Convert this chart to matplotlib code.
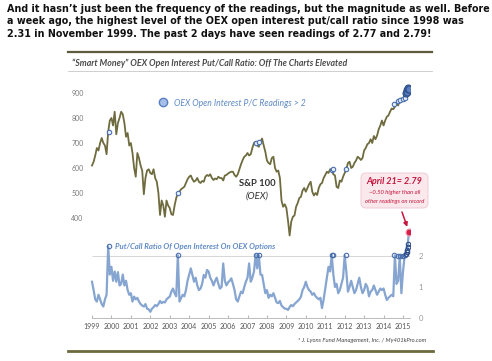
import numpy as np
import matplotlib.pyplot as plt
from matplotlib.lines import Line2D
from matplotlib.patches import FancyBboxPatch

# --- data ---
start_year = 1999
# S&P 100 (OEX), monthly, Jan 1999 .. Apr 2015
oex = [610, 625, 650, 680, 670, 700, 720, 700, 690, 655, 745, 790,
       800, 770, 825, 735, 780, 800, 825, 815, 780, 725, 740, 690,
       700, 660, 600, 565, 660, 640, 610, 590, 495, 560, 590, 595,
       580, 575, 595, 560, 545, 500, 412, 470, 450, 405, 470, 450,
       440, 415, 412, 450, 480, 500, 505, 515, 520, 525, 540, 555,
       565, 570, 555, 545, 550, 560, 545, 540, 548, 545, 565, 572,
       568, 575, 560, 552, 558, 555, 565, 560, 560, 550, 570, 572,
       578, 582, 585, 585, 572, 565, 575, 595, 615, 632, 645, 650,
       660, 650, 655, 680, 700, 705, 690, 685, 705, 718, 690, 665,
       630, 620, 615, 640, 645, 600, 585, 590, 560, 470, 445, 455,
       440, 390, 330, 385, 405, 410, 445, 460, 480, 485, 510, 520,
       505, 520, 535, 545, 505, 490, 500, 492, 520, 535, 540, 560,
       572, 585, 580, 595, 590, 575, 570, 525, 520, 550, 545, 565,
       580, 595, 620, 625, 600, 605, 620, 630, 645, 640, 632, 640,
       670, 680, 695, 700, 715, 700, 728, 715, 730, 755, 770, 790,
       770, 790, 805, 810, 825, 838, 835, 845, 860, 850, 875, 878,
       870, 895, 900, 915]
# OEX open interest put/call ratio, monthly, Jan 1999 .. Apr 2015
pc = [1.17, 0.90, 0.60, 0.53, 0.75, 0.60, 0.45, 0.37, 0.60, 0.75, 2.31, 1.40,
      1.65, 1.20, 1.50, 1.17, 1.48, 1.05, 1.10, 1.40, 1.05, 1.20, 0.90, 0.75,
      0.80, 0.53, 0.69, 0.60, 0.65, 0.53, 0.45, 0.40, 0.37, 0.45, 0.30, 0.28,
      0.20, 0.30, 0.35, 0.42, 0.38, 0.45, 0.55, 0.48, 0.52, 0.50, 0.60, 0.65,
      0.69, 0.85, 0.95, 0.80, 0.70, 2.02, 0.53, 0.64, 0.75, 0.70, 0.90, 1.20,
      1.40, 1.60, 1.39, 1.17, 1.30, 1.05, 0.90, 0.95, 1.10, 1.39, 1.30, 1.55,
      1.50, 1.30, 1.20, 1.05, 1.20, 1.30, 1.10, 0.95, 1.00, 1.76, 1.20, 1.05,
      1.15, 1.20, 1.28, 1.10, 0.90, 0.60, 0.53, 0.70, 0.85, 0.80, 1.00, 1.17,
      1.30, 1.76, 1.17, 1.30, 1.50, 2.03, 1.60, 2.02, 1.40, 1.39, 1.10, 0.80,
      0.90, 0.65, 0.75, 0.70, 0.80, 0.65, 0.50, 0.48, 0.55, 0.40, 0.35, 0.30,
      0.30, 0.26, 0.35, 0.42, 0.38, 0.45, 0.50, 0.55, 0.60, 0.69, 0.90, 1.00,
      1.17, 1.00, 0.90, 0.85, 0.75, 0.80, 0.70, 0.65, 0.60, 0.65, 0.32, 0.60,
      0.95, 1.30, 1.65, 1.50, 2.03, 1.40, 1.00, 1.10, 0.80, 0.90, 1.10, 1.30,
      2.02, 1.50, 0.85, 1.00, 1.20, 1.00, 0.80, 0.90, 1.10, 1.30, 1.00, 0.80,
      0.90, 1.10, 1.00, 0.70, 0.85, 0.90, 1.05, 0.90, 0.75, 0.85, 0.95, 0.90,
      0.95, 0.75, 0.58, 0.65, 0.70, 0.75, 0.70, 2.02, 1.10, 1.20, 2.00, 0.80,
      1.50, 2.00, 2.20, 2.40]
last_date = 2015.30   # April 21, 2015
last_pc = 2.79
last_oex = 915

# readings > 2
hi_dates = [1999.85, 2003.42, 2007.45, 2007.58, 2011.33, 2011.40, 2012.08,
            2014.55, 2014.72, 2014.85, 2014.98, 2015.08]
hi_pc = [2.31, 2.02, 2.03, 2.03, 2.03, 2.02, 2.03, 2.02, 2.00, 2.00, 2.00, 2.02]
hi_oex = [745, 500, 702, 706, 592, 596, 595, 858, 868, 872, 876, 880]
recent_dates = [2015.15, 2015.19, 2015.22, 2015.25, 2015.27, 2015.29]
recent_pc = [2.05, 2.12, 2.20, 2.28, 2.40, 2.77]
recent_oex = [900, 912, 905, 918, 922, 915]

years = list(range(1999, 2016))
oex_ticks = [400, 500, 600, 700, 800, 900]
pc_ticks = [0, 1, 2]

header = ["And it hasn\u2019t just been the frequency of the readings, but the magnitude as well. Before",
          "a week ago, the highest level of the OEX open interest put/call ratio since 1998 was",
          "2.31 in November 1999. The past 2 days have seen readings of 2.77 and 2.79!"]

months = start_year + np.arange(len(oex)) / 12
pc_dates = np.append(start_year + np.arange(len(pc)) / 12, last_date)
pc_vals = np.append(pc, last_pc)
oex_dates = np.append(months, last_date)
oex_vals = np.append(oex, last_oex)

# --- figure ---
W, H = 492, 361
fig = plt.figure(figsize=(W / 100, H / 100), dpi=100)
fx = lambda px: px / W
fy = lambda py: 1 - py / H
cfont = 'Lato'
olive = '#6e6b3e'
blue_txt = '#5f8ac6'

for i, line in enumerate(header):
    fig.text(fx(7), fy(8.5 + 12.7 * i), line, fontsize=6.9, fontweight='bold',
             family='DejaVu Sans', color='#111111', va='center', ha='left')

fig.add_artist(Line2D([fx(68), fx(432)], [fy(52), fy(52)], color='#5d5b3d', lw=1.6))
fig.add_artist(Line2D([fx(68), fx(432)], [fy(71), fy(71)], color='#c8c8c8', lw=0.6))
fig.add_artist(Line2D([fx(68), fx(433)], [fy(351), fy(351)], color='#6b6a3c', lw=2))

fig.text(fx(72), fy(63), '\u201cSmart Money\u201d OEX Open Interest Put/Call Ratio: Off The Charts Elevated',
         family=cfont, fontsize=6.3, fontweight='bold', style='italic', color='#4a4a4a', va='center')

xlim = (1998.64, 2015.36)

# top panel: OEX
ax = fig.add_axes([fx(85), fy(240), 325 / W, 160 / H])
ax.patch.set_alpha(0)
ax.plot(oex_dates, oex_vals, color=olive, lw=1.3)
ax.plot(hi_dates, hi_oex, ls='', marker='o', ms=3.2, mfc='#e6eefa', mec='#4a6fae', mew=0.8)
ax.plot(recent_dates, recent_oex, ls='', marker='o', ms=5, mfc='#5a7fc0', mec='#2f4f8a', mew=0.8)
ax.set_xlim(*xlim)
ax.set_ylim(312, 952)
ax.set_yticks(oex_ticks)
ax.set_xticks([])
ax.tick_params(axis='y', length=0, pad=1, labelsize=5, labelcolor='#7a7a7a')
for s in ax.spines.values():
    s.set_visible(False)
for lab in ax.get_yticklabels():
    lab.set_family(cfont)

leg = ax.legend(handles=[Line2D([], [], ls='', marker='o', ms=6, mfc='#a8c0e8', mec='#5a7fc0', mew=1)],
                labels=['OEX Open Interest P/C Readings > 2'], loc='center left',
                bbox_to_anchor=(fx(159), fy(103)), bbox_transform=fig.transFigure,
                frameon=False, handlelength=1, handletextpad=0.8, borderpad=0, borderaxespad=0,
                prop=dict(family=cfont, size=6.2, style='italic'), labelcolor=blue_txt)

fig.text(fx(257), fy(183), 'S&P 100', family=cfont, fontsize=6.8, fontweight='bold',
         color='#333333', ha='center', va='center')
fig.text(fx(257), fy(196), '(OEX)', family=cfont, fontsize=6.8, style='italic',
         color='#333333', ha='center', va='center')

# bottom panel: put/call ratio
ax2 = fig.add_axes([fx(85), fy(318), 325 / W, 93 / H])
ax2.patch.set_alpha(0)
ax2.hlines(2, 1999, xlim[1], color='#d0d0d0', lw=0.6)
ax2.plot(pc_dates, pc_vals, color='#86a5d0', lw=1.6)
ax2.plot(hi_dates, hi_pc, ls='', marker='o', ms=3.2, mfc='none', mec='#4a6fae', mew=0.8)
ax2.plot(recent_dates, recent_pc, ls='', marker='o', ms=3.2, mfc='none', mec='#2f4f8a', mew=0.8)
ax2.plot(last_date, last_pc, ls='', marker='o', ms=5, mfc='#d6204a', mec='#f0a0b0', mew=0.8)
ax2.set_xlim(*xlim)
ax2.set_ylim(0, 3.0)
ax2.set_xticks(years)
ax2.set_yticks(pc_ticks)
ax2.yaxis.tick_right()
ax2.tick_params(axis='x', direction='in', length=2, color='#bbbbbb', pad=3.5,
                labelsize=5, labelcolor='#555555')
ax2.tick_params(axis='y', length=0, pad=6, labelsize=5.5, labelcolor='#9a9a9a')
for s in ['top', 'left', 'right']:
    ax2.spines[s].set_visible(False)
ax2.spines['bottom'].set_color('#bbbbbb')
ax2.spines['bottom'].set_linewidth(0.7)
ax2.spines['bottom'].set_bounds(1999, xlim[1])
for lab in ax2.get_xticklabels() + ax2.get_yticklabels():
    lab.set_family(cfont)

fig.text(fx(115), fy(246), 'Put/Call Ratio Of Open Interest On OEX Options', family=cfont,
         fontsize=5.6, style='italic', fontweight='bold', color=blue_txt, va='center')
fig.text(fx(426), fy(340), '* J. Lyons Fund Management, Inc. / My401kPro.com', family=cfont,
         fontsize=4.2, style='italic', color='#444444', ha='right', va='center')

# call-out box
box = FancyBboxPatch((fx(361), fy(208)), fx(428) - fx(361), (208 - 173) / H,
                     boxstyle='round,pad=0,rounding_size=0.01', mutation_aspect=W / H,
                     transform=fig.transFigure, facecolor='#fae8ec', edgecolor='#ecc8d0', lw=0.6)
fig.add_artist(box)
red = '#c4163e'
fig.text(fx(394.5), fy(181), 'April 21= 2.79', family=cfont, fontsize=6.5, fontweight='bold',
         style='italic', color=red, ha='center', va='center')
fig.text(fx(394.5), fy(192), '~0.50 higher than all', family=cfont, fontsize=4.2,
         style='italic', color=red, ha='center', va='center')
fig.text(fx(394.5), fy(201), 'other readings on record', family=cfont, fontsize=4.2,
         style='italic', color=red, ha='center', va='center')
ax2.annotate('', xy=(last_date, last_pc), xytext=(402, H - 212), textcoords='figure pixels',
             annotation_clip=False,
             arrowprops=dict(arrowstyle='-|>', color=red, lw=1.1, shrinkA=0, shrinkB=3.5,
                             mutation_scale=6))

fig.savefig('out.png', dpi=100)
